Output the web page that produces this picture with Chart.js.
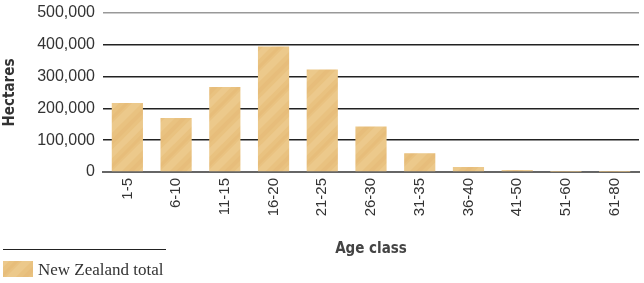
<!DOCTYPE html>
<html lang="en">
<head>
  <meta charset="UTF-8"/>
  <title>Age class - Hectares</title>
  <script src="https://cdn.jsdelivr.net/npm/chart.js"></script>
  <style>
    html, body { margin: 0; padding: 0; background: #fff; }
    #wrap { width: 644px; height: 283px; position: relative; }
  </style>
</head>
<body>
  <div id="wrap"><canvas id="chart"></canvas></div>

  <script>
    // values
    const ageClasses = ['1-5','6-10','11-15','16-20','21-25','26-30','31-35','36-40','41-50','51-60','61-80'];
    const hectares   = [217000, 170000, 267000, 395000, 322000, 143000, 59000, 16000, 6000, 500, 300];
    const seriesName = 'New Zealand total';
    const yMax = 500000, yStep = 100000;

    const narrow = "'Liberation Sans Narrow', 'DejaVu Sans Condensed', sans-serif";

    // wood-ish fill for the bars
    function woodPattern(ctx) {
      const c = document.createElement('canvas');
      c.width = 48; c.height = 48;
      const g = c.getContext('2d');
      g.fillStyle = '#e9c280';
      g.fillRect(0, 0, 48, 48);
      const streaks = [[0, 7, 'rgba(243,214,160,0.35)'], [14, 4, 'rgba(226,176,106,0.25)'],
                       [26, 6, 'rgba(245,220,170,0.3)'], [38, 3, 'rgba(224,172,100,0.22)']];
      for (const [off, w, col] of streaks) {
        g.strokeStyle = col;
        g.lineWidth = w;
        for (let k = -48; k <= 48; k += 48) {
          g.beginPath();
          g.moveTo(off + k - 2, 50);
          g.lineTo(off + k + 50, -2);
          g.stroke();
        }
      }
      return ctx.createPattern(c, 'repeat');
    }

    // rule + legend below the chart
    const legendPlugin = {
      id: 'ruleLegend',
      afterDraw(chart) {
        const ctx = chart.ctx;
        const ds = chart.data.datasets[0];
        ctx.save();
        ctx.strokeStyle = '#222';
        ctx.lineWidth = 1;
        ctx.beginPath();
        ctx.moveTo(3, 249.5);
        ctx.lineTo(166, 249.5);
        ctx.stroke();
        ctx.fillStyle = ds.backgroundColor;
        ctx.fillRect(3, 261, 30, 16);
        ctx.fillStyle = '#333';
        ctx.font = "17px 'Liberation Serif', 'DejaVu Serif', serif";
        ctx.textBaseline = 'alphabetic';
        ctx.fillText(ds.label, 38, 275);
        ctx.restore();
      }
    };

    const ctx = document.getElementById('chart').getContext('2d');
    const fill = woodPattern(ctx);

    new Chart(ctx, {
      type: 'bar',
      data: {
        labels: ageClasses,
        datasets: [{
          label: seriesName,
          data: hectares,
          backgroundColor: fill,
          borderWidth: 0,
          categoryPercentage: 1,
          barPercentage: 0.64
        }]
      },
      options: {
        responsive: true,
        maintainAspectRatio: false,
        animation: false,
        layout: { padding: { left: 0, right: 5, top: 13, bottom: 25 } },
        plugins: { legend: { display: false }, tooltip: { enabled: false } },
        scales: {
          x: {
            grid: { display: false, drawTicks: false },
            border: { display: true, color: '#666', width: 2 },
            ticks: {
              minRotation: 90, maxRotation: 90, padding: 6,
              color: '#333', font: { family: "'Liberation Sans', Arial, sans-serif", size: 15 }
            },
            title: {
              display: true, text: 'Age class', color: '#444',
              padding: 0,
              font: { family: narrow, size: 15, weight: 'bold' }
            },
            afterFit(scale) { scale.height = 86; scale.paddingLeft = 0; scale.paddingRight = 0; }
          },
          y: {
            min: 0, max: yMax,
            border: { display: false },
            grid: {
              drawTicks: false,
              lineWidth: 1.5,
              color: c => c.tick.value === yMax ? '#999' : '#222'
            },
            ticks: {
              stepSize: yStep, padding: 8, color: '#333',
              font: { family: "'Liberation Sans', Arial, sans-serif", size: 16 },
              callback: v => v.toLocaleString('en-US')
            },
            title: {
              display: true, text: 'Hectares', color: '#333',
              padding: { top: 1, bottom: 0 },
              font: { family: narrow, size: 15, weight: 'bold' }
            },
            afterFit(scale) { scale.width = 103; scale.paddingTop = 0; scale.paddingBottom = 0; }
          }
        }
      },
      plugins: [legendPlugin]
    });
  </script>
</body>
</html>
